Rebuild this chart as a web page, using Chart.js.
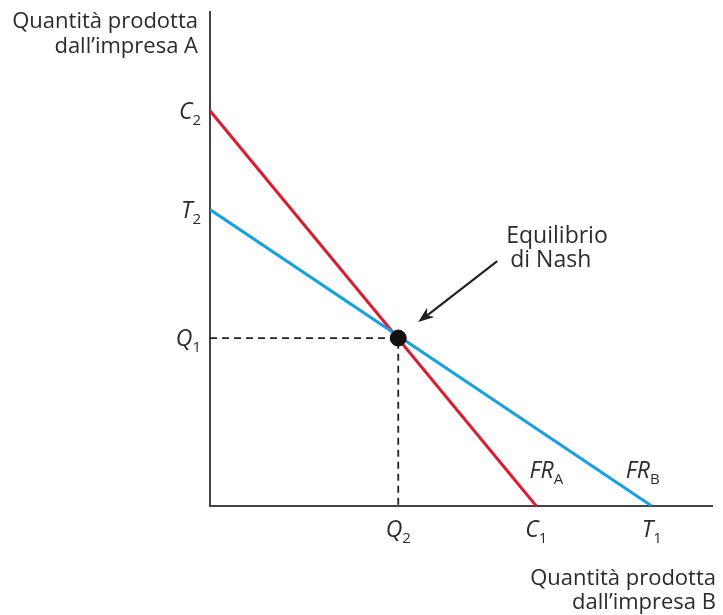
<!DOCTYPE html>
<html>
<head>
<meta charset="utf-8">
<script src="https://cdn.jsdelivr.net/npm/chart.js@4/dist/chart.umd.min.js"></script>
<style>
  html, body { margin: 0; padding: 0; background: #fff; }
  #wrap { width: 723px; height: 615px; }
</style>
</head>
<body>
<div id="wrap"><canvas id="chart" width="723" height="615"></canvas></div>
<script>
// intercette delle funzioni di reazione
const C1 = 65, C2 = 80;   // FR_A
const T1 = 88, T2 = 60;   // FR_B
const Q1 = 34, Q2 = 37.5; // equilibrio di Nash

const frA = [{ x: 0, y: C2 }, { x: C1, y: 0 }];
const frB = [{ x: 0, y: T2 }, { x: T1, y: 0 }];
const guide = [{ x: 0, y: Q1 }, { x: Q2, y: Q1 }, { x: Q2, y: 0 }];
const nash = [{ x: Q2, y: Q1 }];

const yTicks = [{ v: C2, m: "C", s: "2" }, { v: T2, m: "T", s: "2" }, { v: Q1, m: "Q", s: "1" }];
const xTicks = [{ v: Q2, m: "Q", s: "2" }, { v: C1, m: "C", s: "1" }, { v: T1, m: "T", s: "1" }];

const FONT = '"Open Sans", "Noto Sans", sans-serif';
const TEXT = "#2b2b2b";

function subLabel(ctx, x, y, main, sub, align) {
    ctx.font = "italic 23px " + FONT;
    const wm = ctx.measureText(main).width;
    ctx.font = "15px " + FONT;
    const ws = ctx.measureText(sub).width;
    let x0 = x;
    if (align === "right") x0 = x - wm - ws;
    if (align === "center") x0 = x - (wm + ws) / 2;
    ctx.textAlign = "left";
    ctx.textBaseline = "alphabetic";
    ctx.fillStyle = TEXT;
    ctx.font = "italic 23px " + FONT;
    ctx.fillText(main, x0, y);
    ctx.font = "15px " + FONT;
    ctx.fillText(sub, x0 + wm, y + 6);
}

const labelsPlugin = {
    id: "labels",
    afterDraw(chart) {
        const ctx = chart.ctx;
        const xs = chart.scales.x, ys = chart.scales.y;
        ctx.save();

        yTicks.forEach(t => subLabel(ctx, xs.left - 9, ys.getPixelForValue(t.v) + 8, t.m, t.s, "right"));
        xTicks.forEach(t => subLabel(ctx, xs.getPixelForValue(t.v), ys.bottom + 31, t.m, t.s, "center"));

        // etichette delle curve
        subLabel(ctx, xs.getPixelForValue(C1) + 10, ys.bottom - 28, "FR", "A", "center");
        subLabel(ctx, xs.getPixelForValue(T1) - 9, ys.bottom - 28, "FR", "B", "center");

        // titoli degli assi
        ctx.fillStyle = TEXT;
        ctx.font = "22px " + FONT;
        ctx.textAlign = "right";
        ctx.textBaseline = "alphabetic";
        ctx.fillText("Quantità prodotta", xs.left - 12, 28);
        ctx.fillText("dall\u2019impresa A", xs.left - 12, 53);
        ctx.fillText("Quantità prodotta", 716, 585);
        ctx.fillText("dall\u2019impresa B", 716, 609);

        // annotazione equilibrio
        const px = xs.getPixelForValue(Q2), py = ys.getPixelForValue(Q1);
        ctx.textAlign = "left";
        ctx.font = "23px " + FONT;
        ctx.fillText("Equilibrio", px + 108, py - 95);
        ctx.fillText("di Nash", px + 112, py - 71);

        const ax0 = px + 99, ay0 = py - 77, ax1 = px + 20, ay1 = py - 16;
        ctx.strokeStyle = "#222";
        ctx.lineWidth = 2.2;
        ctx.beginPath();
        ctx.moveTo(ax0, ay0);
        ctx.lineTo(ax1 + 8, ay1 - 6);
        ctx.stroke();
        const ang = Math.atan2(ay1 - ay0, ax1 - ax0);
        ctx.fillStyle = "#222";
        ctx.beginPath();
        ctx.moveTo(ax1, ay1);
        ctx.lineTo(ax1 - 17 * Math.cos(ang - 0.36), ay1 - 17 * Math.sin(ang - 0.36));
        ctx.lineTo(ax1 - 11 * Math.cos(ang), ay1 - 11 * Math.sin(ang));
        ctx.lineTo(ax1 - 17 * Math.cos(ang + 0.36), ay1 - 17 * Math.sin(ang + 0.36));
        ctx.closePath();
        ctx.fill();
        ctx.restore();
    }
};

new Chart(document.getElementById("chart"), {
    type: "scatter",
    data: {
        datasets: [
            { data: guide, showLine: true, borderColor: "#222", borderWidth: 1.8, borderDash: [7, 5], pointRadius: 0, order: 3 },
            { data: frA, showLine: true, borderColor: "#d71f34", borderWidth: 3, pointRadius: 0, order: 2 },
            { data: frB, showLine: true, borderColor: "#1aa0dc", borderWidth: 3, pointRadius: 0, order: 1 },
            { data: nash, pointRadius: 8, pointBackgroundColor: "#111", pointBorderColor: "#111", order: 0 }
        ]
    },
    options: {
        responsive: false,
        animation: false,
        layout: { padding: { left: 202, top: 12, right: 11, bottom: 101 } },
        plugins: { legend: { display: false }, tooltip: { enabled: false } },
        scales: {
            x: {
                type: "linear", min: 0, max: 100,
                ticks: { display: false },
                grid: { display: false },
                border: { display: true, color: "#444", width: 2 }
            },
            y: {
                type: "linear", min: 0, max: 100,
                ticks: { display: false },
                grid: { display: false },
                border: { display: true, color: "#444", width: 2 }
            }
        }
    },
    plugins: [labelsPlugin]
});
</script>
</body>
</html>
